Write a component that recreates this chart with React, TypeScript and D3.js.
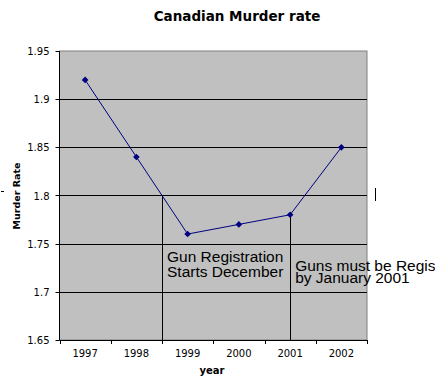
import React from "react";
import * as d3 from "d3";

const years = ["1997", "1998", "1999", "2000", "2001", "2002"];
const rates = [1.92, 1.84, 1.76, 1.77, 1.78, 1.85];
const yTicks = [1.65, 1.7, 1.75, 1.8, 1.85, 1.9, 1.95];
const annotations = [
  { at: 2, top: 1.8, lines: ["Gun Registration", "Starts December"] },
  { at: 4.5, top: 1.78, lines: ["Guns must be Registered", "by January 2001"] },
];

const W = 435, H = 381;
const L = 59.5, R = 367, T = 51, B = 340;
const annoBase = [262, 271];
const annoGap = [14.5, 12];

export default function App() {
  const x = d3.scaleLinear().domain([0, years.length]).range([L, R]);
  const y = d3.scaleLinear().domain([1.65, 1.95]).range([B, T]);
  const line = d3.line<number>().x((_, i) => x(i + 0.5)).y((d) => y(d));
  const diamond = d3.symbol().type(d3.symbolSquare).size(22)();
  const font = "'DejaVu Sans', Verdana, sans-serif";
  return (
    <svg width={W} height={H} style={{ position: "absolute", left: 0, top: 0 }}>
      <rect x={0} y={0} width={W} height={H} fill="#fff" />
      <text x={237} y={21} textAnchor="middle" fontFamily={font} fontWeight="bold" fontSize={13.5}>
        Canadian Murder rate
      </text>
      <rect x={L} y={T} width={R - L} height={B - T} fill="#c0c0c0" stroke="#808080" strokeWidth={1} />
      {yTicks.slice(1, -1).map((t) => (
        <line key={t} x1={L} x2={R} y1={Math.round(y(t)) + 0.5} y2={Math.round(y(t)) + 0.5} stroke="#000" />
      ))}
      {annotations.map((a, k) => (
        <g key={k}>
          <line x1={Math.round(x(a.at)) + 0.5} x2={Math.round(x(a.at)) + 0.5} y1={y(a.top)} y2={B} stroke="#000" />
          {a.lines.map((s, j) => (
            <text key={j} x={x(a.at) + 5} y={annoBase[k] + j * annoGap[k]} fontFamily="'Liberation Sans', Arial, sans-serif" fontSize={15.5} fill="#000">
              {s}
            </text>
          ))}
        </g>
      ))}
      <line x1={L} x2={L} y1={T} y2={B} stroke="#000" />
      <line x1={L} x2={R} y1={B + 0.5} y2={B + 0.5} stroke="#000" />
      {yTicks.map((t) => (
        <g key={t}>
          <line x1={L - 4} x2={L} y1={Math.round(y(t)) + 0.5} y2={Math.round(y(t)) + 0.5} stroke="#000" />
          <text x={L - 10} y={y(t) + 4} textAnchor="end" fontFamily={font} fontSize={10}>
            {t}
          </text>
        </g>
      ))}
      {d3.range(years.length + 1).map((i) => (
        <line key={i} x1={Math.round(x(i)) + 0.5} x2={Math.round(x(i)) + 0.5} y1={B} y2={B + 4} stroke="#000" />
      ))}
      {years.map((yr, i) => (
        <text key={yr} x={x(i + 0.5)} y={357} textAnchor="middle" fontFamily={font} fontSize={10}>
          {yr}
        </text>
      ))}
      <path d={line(rates) ?? ""} fill="none" stroke="#000080" strokeWidth={1} />
      {rates.map((r, i) => (
        <path key={i} d={diamond ?? ""} transform={`translate(${x(i + 0.5)},${y(r)}) rotate(45)`} fill="#000080" />
      ))}
      <text x={212} y={374} textAnchor="middle" fontFamily={font} fontWeight="bold" fontSize={10}>
        year
      </text>
      <text transform={`translate(20,196) rotate(-90)`} textAnchor="middle" fontFamily={font} fontWeight="bold" fontSize={9.5}>
        Murder Rate
      </text>
      <line x1={1} x2={4} y1={191.5} y2={191.5} stroke="#000" />
      <line x1={375.5} x2={375.5} y1={188} y2={201} stroke="#000" />
    </svg>
  );
}
